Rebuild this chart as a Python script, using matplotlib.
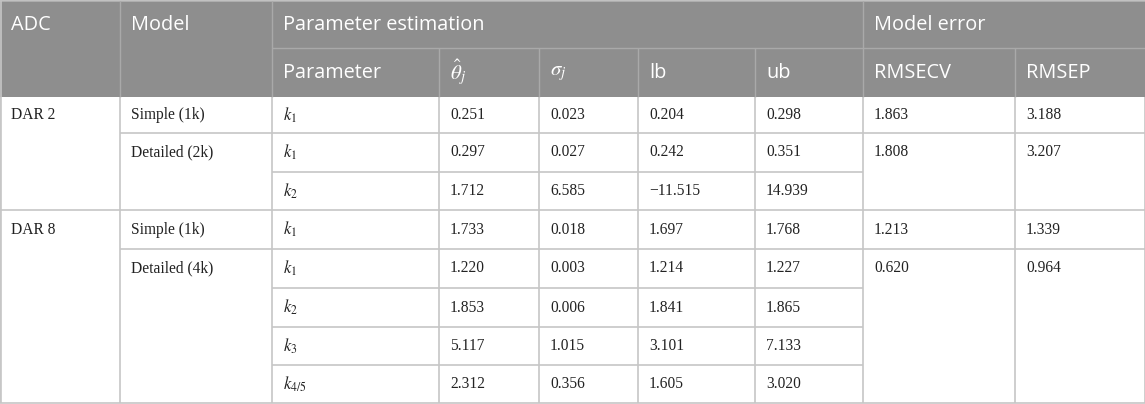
import matplotlib
matplotlib.use("Agg")
import matplotlib.pyplot as plt
from matplotlib.patches import Rectangle

plt.rcParams["mathtext.fontset"] = "stix"

# ---------------------------------------------------------------------------
# Table content
# ---------------------------------------------------------------------------
adc_groups = ["DAR 2", "DAR 8"]
adc_spans = [3, 5]

model_names = ["Simple (1k)", "Detailed (2k)", "Simple (1k)", "Detailed (4k)"]
model_spans = [1, 2, 1, 4]

parameters = [r"$k_1$", r"$k_1$", r"$k_2$", r"$k_1$", r"$k_1$", r"$k_2$", r"$k_3$", r"$k_{4/5}$"]
theta_hat = [0.251, 0.297, 1.712, 1.733, 1.220, 1.853, 5.117, 2.312]
sigma = [0.023, 0.027, 6.585, 0.018, 0.003, 0.006, 1.015, 0.356]
lb = [0.204, 0.242, -11.515, 1.697, 1.214, 1.841, 3.101, 1.605]
ub = [0.298, 0.351, 14.939, 1.768, 1.227, 1.865, 7.133, 3.020]

rmsecv = [1.863, 1.808, 1.213, 0.620]
rmsep = [3.188, 3.207, 1.339, 0.964]

header_top = ["ADC", "Model", "Parameter estimation", "Model error"]
header_sub = ["Parameter", r"$\hat{\theta}_j$", r"$\sigma_j$", "lb", "ub", "RMSECV", "RMSEP"]

# ---------------------------------------------------------------------------
# Layout (pixels)
# ---------------------------------------------------------------------------
W, H = 1145, 404
col_x = [0, 120, 272, 439, 539, 638, 755, 863, 1015, 1145]
head_y = [1, 48, 97]
row_y = [97, 133, 172, 210, 249, 288, 327, 365, 403]
PAD = 11

HEAD_BG = "#8e8e8e"
HEAD_LINE = "#a9a9a9"
BODY_LINE = "#c6c6c6"
BODY_TXT = "#222222"
SANS = "Open Sans"
SERIF = "Liberation Serif"
HEAD_FS = 14.3
BODY_FS = 11.2


def fmt(v):
    return f"{v:.3f}".replace("-", "\u2212")


fig = plt.figure(figsize=(W / 100, H / 100), dpi=100)
ax = fig.add_axes([0, 0, 1, 1])
ax.set_xlim(0, W)
ax.set_ylim(H, 0)
ax.axis("off")

# header background
ax.add_patch(Rectangle((0, head_y[0]), W, head_y[2] - head_y[0], facecolor=HEAD_BG, edgecolor="none"))
ax.hlines(head_y[0], 0, W, color="#b5b5b5", lw=1.2)

# header lines
ax.hlines(head_y[1], col_x[2], W, color=HEAD_LINE, lw=1)
for i in [1, 2, 7]:
    ax.vlines(col_x[i], head_y[0], head_y[2], color=HEAD_LINE, lw=1)
for i in [3, 4, 5, 6, 8]:
    ax.vlines(col_x[i], head_y[1], head_y[2], color=HEAD_LINE, lw=1)

# header text
top_cols = [0, 1, 2, 7]
for label, c in zip(header_top, top_cols):
    ax.text(col_x[c] + PAD, (head_y[0] + head_y[1]) / 2, label, color="white",
            fontsize=HEAD_FS, family=SANS, va="center", ha="left")
for k, label in enumerate(header_sub):
    c = 2 + k
    fs = 15 if label.startswith("$") else HEAD_FS
    ax.text(col_x[c] + PAD, (head_y[1] + head_y[2]) / 2, label, color="white",
            fontsize=fs, family=SANS, va="center", ha="left")


def row_mid(r):
    return (row_y[r] + row_y[r + 1]) / 2


# body lines: column 0 (ADC groups)
start = 0
for name, span in zip(adc_groups, adc_spans):
    end = start + span
    ax.hlines(row_y[end], col_x[0], col_x[1], color=BODY_LINE, lw=1.2)
    ax.text(col_x[0] + PAD, row_mid(start), name, color=BODY_TXT, fontsize=BODY_FS,
            family=SERIF, va="center")
    start = end

# model-level columns (Model, RMSECV, RMSEP)
start = 0
for name, span, cv, ep in zip(model_names, model_spans, rmsecv, rmsep):
    end = start + span
    for c in [1, 7, 8]:
        ax.hlines(row_y[end], col_x[c], col_x[c + 1], color=BODY_LINE, lw=1.2)
    ax.text(col_x[1] + PAD, row_mid(start), name, color=BODY_TXT, fontsize=BODY_FS,
            family=SERIF, va="center")
    ax.text(col_x[7] + PAD, row_mid(start), fmt(cv), color=BODY_TXT, fontsize=BODY_FS,
            family=SERIF, va="center")
    ax.text(col_x[8] + PAD, row_mid(start), fmt(ep), color=BODY_TXT, fontsize=BODY_FS,
            family=SERIF, va="center")
    start = end

# parameter-level columns
for r in range(len(parameters)):
    ax.hlines(row_y[r + 1], col_x[2], col_x[7], color=BODY_LINE, lw=1.2)
    ax.text(col_x[2] + PAD, row_mid(r), parameters[r], color=BODY_TXT, fontsize=12,
            va="center")
    for c, vals in zip([3, 4, 5, 6], [theta_hat, sigma, lb, ub]):
        ax.text(col_x[c] + PAD, row_mid(r), fmt(vals[r]), color=BODY_TXT, fontsize=BODY_FS,
                family=SERIF, va="center")

# vertical body lines
for x in col_x:
    ax.vlines(x if x < W else W - 0.5, row_y[0], row_y[-1], color=BODY_LINE, lw=1.2)
ax.vlines(0.5, head_y[0], row_y[-1], color=BODY_LINE, lw=1.2)

fig.savefig("out.png", dpi=100)
